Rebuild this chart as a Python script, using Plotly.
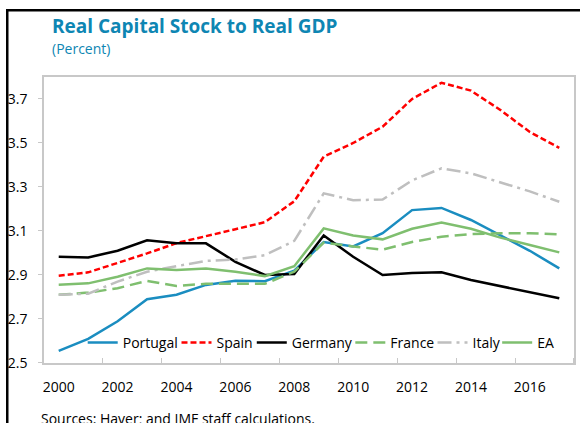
import plotly.graph_objects as go

years = list(range(2000, 2018))

portugal = [2.555, 2.61, 2.69, 2.79, 2.81, 2.855, 2.874, 2.872, 2.92, 3.05, 3.03, 3.09,
            3.195, 3.205, 3.15, 3.08, 3.01, 2.93]
spain = [2.897, 2.912, 2.955, 2.998, 3.045, 3.078, 3.108, 3.14, 3.235, 3.438, 3.50, 3.574,
         3.70, 3.774, 3.738, 3.65, 3.55, 3.478]
germany = [2.983, 2.98, 3.01, 3.058, 3.044, 3.044, 2.96, 2.90, 2.905, 3.08, 2.983, 2.90,
           2.909, 2.912, 2.877, 2.85, 2.82, 2.794]
france = [2.81, 2.82, 2.84, 2.873, 2.85, 2.86, 2.86, 2.86, 2.915, 3.047, 3.03, 3.015,
          3.05, 3.074, 3.086, 3.09, 3.09, 3.085]
italy = [2.81, 2.815, 2.87, 2.915, 2.94, 2.964, 2.97, 2.99, 3.055, 3.271, 3.24, 3.243,
         3.33, 3.385, 3.362, 3.32, 3.28, 3.233]
ea = [2.856, 2.862, 2.892, 2.93, 2.923, 2.93, 2.915, 2.895, 2.94, 3.112, 3.08, 3.062,
      3.11, 3.138, 3.11, 3.07, 3.036, 3.003]

x_labels = [2000, 2002, 2004, 2006, 2008, 2010, 2012, 2014, 2016]
y_ticks = [2.5, 2.7, 2.9, 3.1, 3.3, 3.5, 3.7]

series = [
    ("Portugal", portugal, "#1a8dc0", "solid"),
    ("Spain", spain, "#ff0000", "6px,3px"),
    ("Germany", germany, "#000000", "solid"),
    ("France", france, "#7fbf6f", "12px,6px"),
    ("Italy", italy, "#bfbfbf", "14px,5px,3px,5px"),
    ("EA", ea, "#7fbf6f", "solid"),
]

# one small legend per series so the entries sit where the original has them
legend_x = [0.1426, 0.3043, 0.4341, 0.6040, 0.7457, 0.8572]
legend_ids = ["legend", "legend2", "legend3", "legend4", "legend5", "legend6"]

fig = go.Figure()
for (name, vals, color, dash), lid in zip(series, legend_ids):
    fig.add_trace(go.Scatter(
        x=years, y=vals, name=name, mode="lines",
        line=dict(color=color, width=2.5, dash=dash),
        legend=lid,
    ))

legends = {}
for lid, lx in zip(legend_ids, legend_x):
    legends[lid] = dict(orientation="h", x=lx, y=0.1891, xanchor="left", yanchor="middle",
                        font=dict(size=14), bgcolor="rgba(0,0,0,0)", itemwidth=30)

# margins are zero; the plot area is placed by the axis domains
fig.update_layout(
    width=580, height=423,
    margin=dict(l=0, r=0, t=0, b=0),
    paper_bgcolor="white", plot_bgcolor="rgba(0,0,0,0)",
    font=dict(family="Open Sans", size=14, color="black"),
    showlegend=True,
    xaxis=dict(domain=[0.07586, 0.98966], anchor="y",
               range=[1999.5, 2017.5], tickmode="array", tickvals=x_labels,
               ticks="", showgrid=False, zeroline=False, automargin=False,
               showline=True, mirror=True, linecolor="#c8c8c8", linewidth=1.5,
               ticklabelstandoff=10,
               minor=dict(tickmode="linear", tick0=2001.5, dtick=2, ticks="inside",
                          ticklen=5, tickcolor="#c8c8c8", tickwidth=1)),
    yaxis=dict(domain=[0.14184, 0.81797], anchor="x",
               range=[2.5, 3.8], tickmode="array", tickvals=y_ticks,
               tickformat=".1f", ticks="outside", ticklen=4, tickcolor="#c8c8c8",
               showgrid=False, zeroline=False, automargin=False,
               showline=True, mirror=True, linecolor="#c8c8c8", linewidth=1.5,
               ticklabelstandoff=8),
    # empty axes whose lines form the black box on the left and top of the chart
    xaxis2=dict(domain=[0.0121, 1], anchor="y2", side="top", range=[0, 1],
                showline=True, linecolor="black", linewidth=2.5, showticklabels=False,
                ticks="", showgrid=False, zeroline=False, fixedrange=True),
    yaxis2=dict(domain=[0, 0.9764], anchor="x2", side="left", range=[0, 1],
                showline=True, linecolor="black", linewidth=2.5, showticklabels=False,
                ticks="", showgrid=False, zeroline=False, fixedrange=True),
    **legends,
)

fig.add_annotation(text="<b>Real Capital Stock to Real GDP</b>", xref="paper", yref="paper",
                   x=0.0862, y=0.9385, xanchor="left", yanchor="middle", showarrow=False,
                   font=dict(size=19, color="#0e86b3"))
fig.add_annotation(text="(Percent)", xref="paper", yref="paper",
                   x=0.0862, y=0.8863, xanchor="left", yanchor="middle", showarrow=False,
                   font=dict(size=14, color="#0e86b3"))
fig.add_annotation(text="Sources: Haver; and IMF staff calculations.", xref="paper", yref="paper",
                   x=0.0672, y=0.0371, xanchor="left", yanchor="top", showarrow=False,
                   font=dict(size=14))

# a large empty box whose left and top borders also draw the black frame
fig.add_annotation(text=" ", xref="paper", yref="paper", x=0.0103, y=0.9787,
                   xanchor="left", yanchor="top", showarrow=False,
                   width=620, height=460, borderpad=0,
                   bordercolor="black", borderwidth=2.5)

# drop the browser's default 8px body margin so the figure sits at the page corner
fig.write_html("out.html", config={"displayModeBar": False},
               post_script="document.body.style.margin = '0px';")
